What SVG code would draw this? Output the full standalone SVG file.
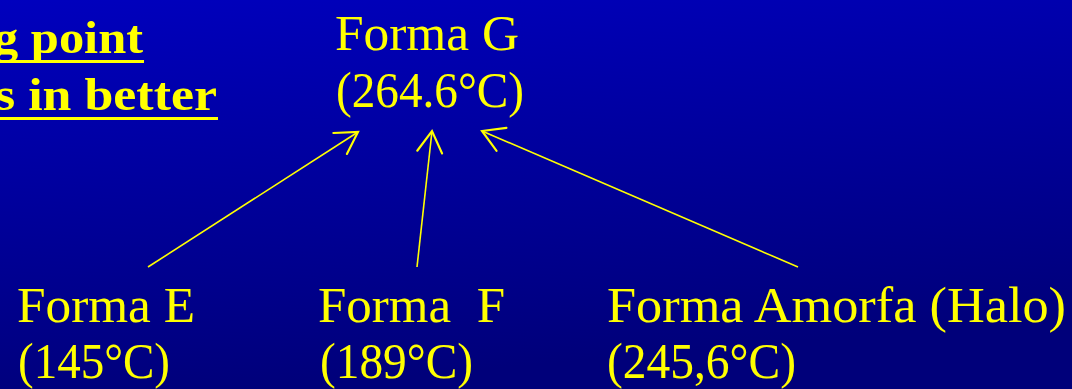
<svg xmlns="http://www.w3.org/2000/svg" width="1072" height="389" viewBox="0 0 1072 389">
  <defs>
    <linearGradient id="bg" x1="0" y1="0" x2="0.25" y2="1">
      <stop offset="0" stop-color="#0000BE"/>
      <stop offset="1" stop-color="#00007A"/>
    </linearGradient>
    <marker id="open" markerUnits="userSpaceOnUse" markerWidth="30" markerHeight="30" viewBox="-20 -12 24 24" refX="0" refY="0" orient="auto">
      <path d="M -17 -10 L 0 0 L -17 10" fill="none" stroke="#FFFF00" stroke-width="1.7" stroke-linecap="round" stroke-linejoin="miter"/>
    </marker>
    <style>
      .lbl { font-family: "Liberation Serif", "Times New Roman", serif; font-size: 50px; fill: #FFFF00; }
      .ttl { font-family: "Liberation Serif", "Times New Roman", serif; font-size: 47px; font-weight: bold; fill: #FFFF00; }
      .ul { stroke: #FFFF00; stroke-width: 3; }
      .conn { stroke: #FFFF00; stroke-width: 1.6; fill: none; marker-end: url(#open); }
    </style>
  </defs>
  <rect x="0" y="0" width="1072" height="389" fill="url(#bg)"/>

  <g id="title">
    <text class="ttl" x="143" y="53" text-anchor="end" textLength="150" lengthAdjust="spacingAndGlyphs">g point</text>
    <line class="ul" x1="0" y1="61.5" x2="144" y2="61.5"/>
    <text class="ttl" x="217" y="110" text-anchor="end" textLength="222" lengthAdjust="spacingAndGlyphs">s in better</text>
    <line class="ul" x1="0" y1="118.5" x2="218" y2="118.5"/>
  </g>

  <g id="connectors">
    <line class="conn" x1="148" y1="267" x2="358" y2="132"/>
    <line class="conn" x1="417" y1="267" x2="432" y2="131"/>
    <line class="conn" x1="798" y1="267" x2="482" y2="131"/>
  </g>

  <g id="node-G">
    <text class="lbl" x="335" y="50" textLength="184" lengthAdjust="spacingAndGlyphs">Forma G</text>
    <text class="lbl" x="336" y="107" textLength="188" lengthAdjust="spacingAndGlyphs">(264.6°C)</text>
  </g>
  <g id="node-E">
    <text class="lbl" x="17" y="322" textLength="178" lengthAdjust="spacingAndGlyphs">Forma E</text>
    <text class="lbl" x="18" y="378" textLength="152" lengthAdjust="spacingAndGlyphs">(145°C)</text>
  </g>
  <g id="node-F">
    <text class="lbl" x="318" y="322" textLength="187" lengthAdjust="spacingAndGlyphs" xml:space="preserve">Forma  F</text>
    <text class="lbl" x="320" y="378" textLength="153" lengthAdjust="spacingAndGlyphs">(189°C)</text>
  </g>
  <g id="node-Amorfa">
    <text class="lbl" x="607" y="322" textLength="459" lengthAdjust="spacingAndGlyphs">Forma Amorfa (Halo)</text>
    <text class="lbl" x="607" y="378" textLength="189" lengthAdjust="spacingAndGlyphs">(245,6°C)</text>
  </g>
</svg>
